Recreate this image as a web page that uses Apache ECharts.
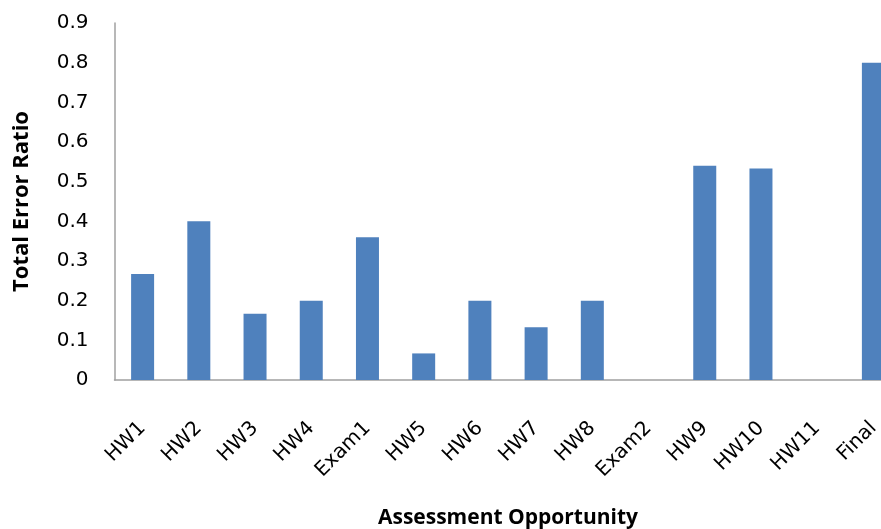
<!DOCTYPE html>
<html>
<head>
<meta charset="utf-8">
<script src="https://cdn.jsdelivr.net/npm/echarts@6/dist/echarts.min.js"></script>
<style>html,body{margin:0;padding:0;background:#fff;}#chart{width:881px;height:529px;}</style>
</head>
<body>
<div id="chart"></div>
<script>
const categories = ['HW1','HW2','HW3','HW4','Exam1','HW5','HW6','HW7','HW8','Exam2','HW9','HW10','HW11','Final'];
const errorRatio = [0.267, 0.4, 0.167, 0.2, 0.36, 0.067, 0.2, 0.133, 0.2, 0, 0.54, 0.533, 0, 0.8];
const yTicks = [0, 0.1, 0.2, 0.3, 0.4, 0.5, 0.6, 0.7, 0.8, 0.9];

const chart = echarts.init(document.getElementById('chart'), null, {renderer: 'canvas'});
chart.setOption({
  animation: false,
  backgroundColor: '#ffffff',
  grid: {left: 114.5, width: 787, top: 23, height: 357, containLabel: false, outerBoundsMode: 'none'},
  xAxis: {
    type: 'category',
    data: categories,
    name: 'Assessment Opportunity',
    nameLocation: 'middle',
    nameGap: 128,
    nameTextStyle: {fontFamily: 'Open Sans', fontWeight: 'bold', fontSize: 21, color: '#000'},
    axisLine: {lineStyle: {color: '#a0a0a0', width: 1.5}},
    axisTick: {show: false},
    axisLabel: {rotate: 45, fontFamily: 'DejaVu Sans', fontSize: 20, color: '#000', margin: 45, interval: 0}
  },
  yAxis: {
    type: 'value',
    min: yTicks[0],
    max: yTicks[yTicks.length - 1],
    interval: 0.1,
    name: 'Total Error Ratio',
    nameLocation: 'middle',
    nameGap: 82,
    nameRotate: 90,
    nameTextStyle: {fontFamily: 'Open Sans', fontWeight: 'bold', fontSize: 22, color: '#000'},
    axisLine: {show: true, lineStyle: {color: '#a0a0a0', width: 1.5}},
    axisTick: {show: false},
    splitLine: {show: false},
    axisLabel: {fontFamily: 'DejaVu Sans', fontSize: 20, color: '#000', margin: 26,
      formatter: function (v) { return String(Math.round(v * 10) / 10); }}
  },
  series: [{
    type: 'bar',
    data: errorRatio,
    barWidth: 23,
    itemStyle: {color: '#4f81bd'}
  }]
});
</script>
</body>
</html>
